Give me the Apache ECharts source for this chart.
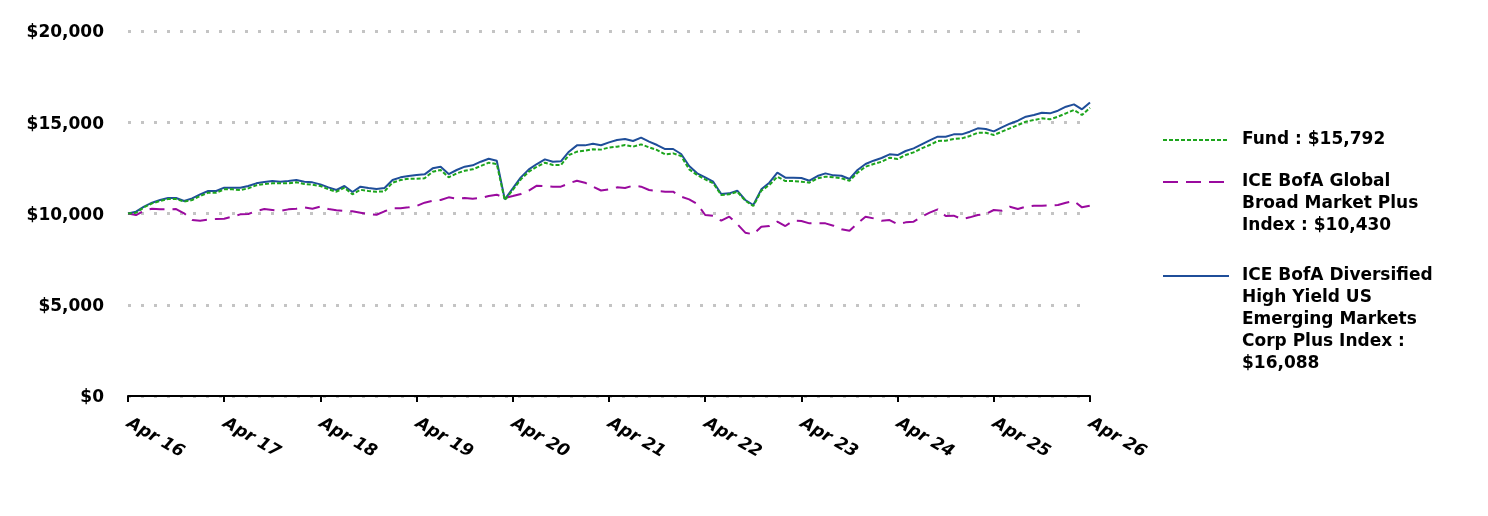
<!DOCTYPE html>
<html>
<head>
<meta charset="utf-8">
<script src="https://cdn.jsdelivr.net/npm/echarts@6/dist/echarts.min.js"></script>
<style>
html,body{margin:0;padding:0;background:#fff;}
#chart{width:1488px;height:516px;}
</style>
</head>
<body>
<div id="chart"></div>
<script>
// Monthly points, Apr 2016 .. Apr 2026
const monthNames = ['Jan','Feb','Mar','Apr','May','Jun','Jul','Aug','Sep','Oct','Nov','Dec'];
const categories = [];
for (let k = 0; k <= 120; k++) {
  const m = (3 + k) % 12;
  const y = 16 + Math.floor((3 + k) / 12);
  categories.push(monthNames[m] + ' ' + y);
}

const seriesNames = ['Fund', 'Global Broad Market', 'Diversified HY EM'];
const legendLabels = [
  ['Fund : $15,792'],
  ['ICE BofA Global', 'Broad Market Plus', 'Index : $10,430'],
  ['ICE BofA Diversified', 'High Yield US', 'Emerging Markets', 'Corp Plus Index :', '$16,088']
];

const fundValues = [
10000,10040,10337,10556,10684,10794,10794,10648,10739,10958,11141,11141,
11323,11323,11287,11378,11543,11615,11652,11652,11652,11707,11615,11579,
11506,11323,11195,11415,11050,11300,11232,11195,11213,11689,11835,11908,
11908,11926,12291,12383,11981,12200,12346,12419,12602,12784,12711,10739,
11287,11871,12291,12565,12784,12656,12656,13204,13387,13442,13515,13500,
13615,13661,13752,13661,13789,13625,13478,13241,13296,13150,12419,12109,
11871,11652,11013,11050,11195,10702,10410,11250,11561,12017,11780,11780,
11743,11689,11926,12017,11981,11926,11790,12236,12565,12711,12839,13058,
12985,13204,13351,13570,13752,13972,13990,14081,14117,14245,14428,14428,
14300,14483,14666,14848,15031,15122,15213,15159,15305,15488,15670,15396,
15792];

const globalValues = [
10000,9917,10155,10264,10227,10227,10245,10008,9643,9607,9661,9698,
9716,9826,9953,9972,10136,10245,10191,10136,10227,10264,10337,10264,
10374,10245,10173,10136,10118,10040,9960,9930,10120,10282,10282,10337,
10410,10593,10702,10739,10885,10812,10848,10812,10848,10958,11031,10850,
10958,11068,11250,11524,11506,11470,11470,11652,11798,11689,11470,11260,
11323,11433,11396,11524,11470,11287,11232,11195,11195,10921,10776,10520,
9917,9881,9607,9826,9424,8949,8858,9278,9314,9552,9314,9607,
9589,9461,9461,9461,9333,9132,9050,9461,9826,9734,9607,9643,
9406,9515,9552,9826,10045,10227,9862,9880,9698,9789,9917,9972,
10191,10155,10374,10245,10374,10429,10429,10447,10465,10593,10684,10337,
10430];

const hyValues = [
10000,10100,10374,10593,10739,10848,10848,10684,10830,11050,11232,11232,
11415,11415,11415,11506,11652,11725,11780,11743,11780,11835,11743,11707,
11597,11433,11287,11506,11177,11470,11396,11342,11396,11835,11981,12054,
12109,12145,12474,12565,12163,12383,12565,12638,12839,13003,12894,10776,
11378,11981,12419,12711,12967,12839,12857,13387,13734,13734,13825,13740,
13899,14026,14081,13972,14154,13935,13752,13533,13533,13259,12602,12200,
11981,11743,11068,11104,11250,10739,10465,11323,11689,12236,11962,11962,
11944,11798,12054,12200,12090,12070,11890,12383,12711,12894,13040,13241,
13204,13424,13570,13789,14008,14209,14209,14337,14337,14483,14666,14629,
14501,14720,14921,15085,15305,15396,15524,15488,15634,15853,15981,15707,
16088];

const yTicks = [0, 5000, 10000, 15000, 20000];

const FONT = 'DejaVu Sans';
const colors = ['#1DA51D', '#9A0A9E', '#1F4E99'];

function legendFor(idx, top) {
  const lines = legendLabels[idx];
  // blank lines on top so the first real line sits level with the legend line
  const blanks = lines.length - 1;
  const parts = [];
  for (let b = 0; b < blanks; b++) parts.push('{t| }');
  lines.forEach(function (l) { parts.push('{t|' + l + '}'); });
  const txt = parts.join('\n');
  return {
    show: true,
    left: 1162,
    top: top,
    padding: 0,
    orient: 'vertical',
    selectedMode: false,
    itemWidth: 66,
    itemHeight: 14,
    itemStyle: {opacity: 0},
    data: [seriesNames[idx]],
    formatter: function () { return txt; },
    textStyle: {
      fontFamily: FONT,
      fontWeight: 'bold',
      fontSize: 17,
      lineHeight: 22,
      color: '#000',
      rich: {
        t: {
          fontFamily: FONT,
          fontWeight: 'bold',
          fontSize: 17,
          lineHeight: 22,
          color: '#000',
          padding: [0, 0, 0, 8]
        }
      }
    }
  };
}

const chart = echarts.init(document.getElementById('chart'), null, {renderer: 'canvas'});
chart.setOption({
  animation: false,
  backgroundColor: '#ffffff',
  grid: {left: 128, right: 398, top: 31, bottom: 120, containLabel: false},
  legend: [
    legendFor(0, 129),
    legendFor(1, 127),
    legendFor(2, 177)
  ],
  xAxis: {
    type: 'category',
    data: categories,
    boundaryGap: false,
    axisLine: {show: true, lineStyle: {color: '#000', width: 2}},
    axisTick: {show: true, interval: 11, length: 6, lineStyle: {color: '#000', width: 2}},
    axisLabel: {
      interval: 11,
      rotate: -30,
      margin: 26,
      fontFamily: FONT,
      fontWeight: 'bold',
      fontStyle: 'italic',
      fontSize: 17,
      color: '#000'
    },
    splitLine: {show: false}
  },
  yAxis: {
    type: 'value',
    min: yTicks[0],
    max: yTicks[yTicks.length - 1],
    interval: 5000,
    axisLine: {show: false},
    axisTick: {show: false},
    axisLabel: {
      margin: 24,
      fontFamily: FONT,
      fontWeight: 'bold',
      fontSize: 17,
      color: '#000',
      formatter: function (v) { return '{v|$' + v.toLocaleString('en-US') + '}'; },
      rich: {
        v: {
          fontFamily: FONT,
          fontWeight: 'bold',
          fontSize: 17,
          color: '#000',
          padding: [4, 0, 0, 0]
        }
      }
    },
    splitLine: {show: true, lineStyle: {color: '#c4c4c4', width: 3, type: [3, 10]}}
  },
  series: [
    {
      name: seriesNames[2], type: 'line', data: hyValues, symbol: 'none', z: 3,
      lineStyle: {color: colors[2], width: 2, type: 'solid'}, itemStyle: {color: colors[2]}
    },
    {
      name: seriesNames[1], type: 'line', data: globalValues, symbol: 'none', z: 4,
      lineStyle: {color: colors[1], width: 2, type: [15, 8]}, itemStyle: {color: colors[1]}
    },
    {
      name: seriesNames[0], type: 'line', data: fundValues, symbol: 'none', z: 5,
      lineStyle: {color: colors[0], width: 2, type: [4, 2]}, itemStyle: {color: colors[0]}
    }
  ]
});
</script>
</body>
</html>
